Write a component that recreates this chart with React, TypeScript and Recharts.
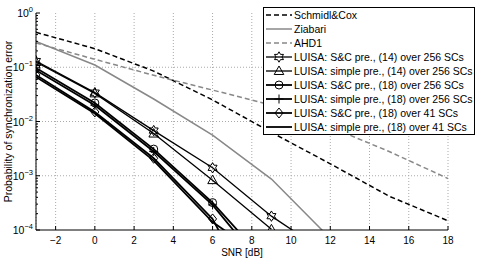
import React from 'react'
import { CartesianGrid, Legend, Line, LineChart, ReferenceLine, XAxis, YAxis } from 'recharts'

// SNR in dB
const snr = [-3, 0, 3, 6, 9, 12, 15, 18]

// probability of synchronization error per method
const schmidlCox = [0.44, 0.22, 0.085, 0.025, 0.0063, 0.00166, 0.00042, 0.000148]
const ziabari = [0.3, 0.11, 0.026, 0.0056, 0.00087, 0.00007, null, null]
const ahd1 = [0.28, 0.14, 0.071, 0.038, 0.02, 0.0079, 0.0028, 0.00089]
const luisaSC14 = [0.13, 0.034, 0.0068, 0.0014, 0.00018, 0.000034, null, null]
const luisaSimple14 = [0.125, 0.033, 0.006, 0.00083, 0.000103, null, null, null]
const luisaSC18 = [0.097, 0.022, 0.0031, 0.00032, 0.00002, null, null, null]
const luisaSimple18 = [0.088, 0.02, 0.0028, 0.00029, 0.000014, null, null, null]
const luisaSC18x41 = [0.072, 0.015, 0.0021, 0.00016, 0.0000015, null, null, null]
const luisaSimple18x41 = [0.066, 0.014, 0.0019, 0.00014, 0.000025, null, null, null]

const xTicks = [-2, 0, 2, 4, 6, 8, 10, 12, 14, 16, 18]
const yMajor = [1e-4, 1e-3, 1e-2, 1e-1, 1]
const yMinorMult = [2, 3, 4, 5, 6, 7, 8, 9]
const yTicks = [...yMajor, ...yMajor.slice(0, -1).flatMap((d) => yMinorMult.map((m) => m * d))]

const series = [
  { key: 'schmidlCox', name: 'Schmidl&Cox', values: schmidlCox, color: '#000', dash: '5 3', width: 1.5, marker: null },
  { key: 'ziabari', name: 'Ziabari', values: ziabari, color: '#888', dash: undefined, width: 1.5, marker: null },
  { key: 'ahd1', name: 'AHD1', values: ahd1, color: '#888', dash: '5 3', width: 1.5, marker: null },
  { key: 'luisaSC14', name: 'LUISA: S&C pre., (14) over 256 SCs', values: luisaSC14, color: '#000', dash: undefined, width: 1.3, marker: 'hexagram' },
  { key: 'luisaSimple14', name: 'LUISA: simple pre., (14) over 256 SCs', values: luisaSimple14, color: '#000', dash: undefined, width: 1.3, marker: 'triangle' },
  { key: 'luisaSC18', name: 'LUISA: S&C pre., (18) over 256 SCs', values: luisaSC18, color: '#000', dash: undefined, width: 1.8, marker: 'circle' },
  { key: 'luisaSimple18', name: 'LUISA: simple pre., (18) over 256 SCs', values: luisaSimple18, color: '#000', dash: undefined, width: 1.8, marker: 'plus' },
  { key: 'luisaSC18x41', name: 'LUISA: S&C pre., (18) over 41 SCs', values: luisaSC18x41, color: '#000', dash: undefined, width: 1.8, marker: 'diamond' },
  { key: 'luisaSimple18x41', name: 'LUISA: simple pre., (18) over 41 SCs', values: luisaSimple18x41, color: '#000', dash: undefined, width: 1.8, marker: null },
]

const data = snr.map((s, i) => {
  const row: any = { snr: s }
  series.forEach((sr) => { row[sr.key] = sr.values[i] })
  return row
})

const FONT = '"Liberation Sans", Arial, Helvetica, sans-serif'

const markerShape = (shape, cx, cy) => {
  const st = { fill: 'none', stroke: '#000', strokeWidth: 1 }
  if (shape === 'circle') return <circle cx={cx} cy={cy} r={4} {...st} />
  if (shape === 'plus') return <path d={`M${cx - 4.5},${cy}H${cx + 4.5}M${cx},${cy - 4.5}V${cy + 4.5}`} {...st} />
  if (shape === 'diamond') return <path d={`M${cx},${cy - 5}L${cx + 4},${cy}L${cx},${cy + 5}L${cx - 4},${cy}Z`} {...st} />
  if (shape === 'triangle') return <path d={`M${cx},${cy - 5}L${cx + 4.8},${cy + 3.5}L${cx - 4.8},${cy + 3.5}Z`} {...st} />
  if (shape === 'hexagram') {
    const pts = []
    for (let k = 0; k < 12; k++) {
      const a = (-90 + k * 30) * Math.PI / 180
      const r = k % 2 === 0 ? 5.2 : 3
      pts.push(`${cx + r * Math.cos(a)},${cy + r * Math.sin(a)}`)
    }
    return <polygon points={pts.join(' ')} {...st} />
  }
  return null
}

const makeDot = (shape) => (p) => {
  if (p.value == null || p.cy == null || isNaN(p.cy)) return <g key={`${shape}-${p.index}`} />
  return <g key={`${shape}-${p.index}`}>{markerShape(shape, p.cx, p.cy)}</g>
}

const LeftTick = ({ x, y, payload }) => {
  const lg = Math.log10(payload.value)
  const exp = Math.round(lg)
  const major = Math.abs(lg - exp) < 1e-6
  return (
    <g>
      <line x1={x} x2={x + (major ? 4 : 2)} y1={y} y2={y} stroke="#000" />
      {major && (
        <text x={x - 3} y={y + 4} textAnchor="end" fontFamily={FONT} fontSize={10.5} fill="#000">
          10<tspan dy={-5} fontSize={7.5}>{exp === 0 ? '0' : `\u2212${Math.abs(exp)}`}</tspan>
        </text>
      )}
    </g>
  )
}

const RightTick = ({ x, y, payload }) => {
  const lg = Math.log10(payload.value)
  const major = Math.abs(lg - Math.round(lg)) < 1e-6
  return <line x1={x} x2={x - (major ? 4 : 2)} y1={y} y2={y} stroke="#000" />
}

const BottomTick = ({ x, y, payload }) => (
  <g>
    <line x1={x} x2={x} y1={y} y2={y - 4} stroke="#000" />
    <text x={x} y={y + 13.5} textAnchor="middle" fontFamily={FONT} fontSize={10} fill="#000">
      {payload.value < 0 ? `\u2212${Math.abs(payload.value)}` : payload.value}
    </text>
  </g>
)

const TopTick = ({ x, y }) => <line x1={x} x2={x} y1={y} y2={y + 4} stroke="#000" />

const YLabel = ({ viewBox }) => {
  const cx = 8
  const cy = viewBox.y + viewBox.height / 2
  return (
    <text x={cx} y={cy} transform={`rotate(-90 ${cx} ${cy})`} textAnchor="middle" dominantBaseline="central"
      fontFamily={FONT} fontSize={10.5} fill="#000">
      Probability of synchronization error
    </text>
  )
}

const XLabel = ({ viewBox }) => (
  <text x={viewBox.x + viewBox.width / 2} y={256} textAnchor="middle" fontFamily={FONT} fontSize={10} fill="#000">
    SNR [dB]
  </text>
)

const LegendBox = () => (
  <div style={{ border: '1px solid #000', background: '#fff', width: 210, fontFamily: FONT, fontSize: 10.5, color: '#000' }}>
    {series.map((s) => (
      <div key={s.key} style={{ display: 'flex', alignItems: 'center', height: 14 }}>
        <svg width={30} height={14} style={{ flex: 'none' }}>
          <line x1={2} x2={28} y1={7} y2={7} stroke={s.color} strokeWidth={s.width} strokeDasharray={s.dash} />
          {s.marker && markerShape(s.marker, 15, 7)}
        </svg>
        <span style={{ whiteSpace: 'nowrap' }}>{s.name}</span>
      </div>
    ))}
  </div>
)

export default function App() {
  return (
    <div style={{ position: 'absolute', left: 0, top: 0 }}>
      <LineChart width={485} height={259} data={data} margin={{ top: 13, right: 37, bottom: 0, left: 0 }}>
        <CartesianGrid horizontal={false} stroke="#aaa" strokeDasharray="1 2" />
        {yMajor.slice(1, -1).map((v) => (
          <ReferenceLine key={v} y={v} stroke="#aaa" strokeDasharray="1 2" />
        ))}
        <XAxis dataKey="snr" type="number" domain={[-3, 18]} allowDataOverflow ticks={xTicks} interval={0}
          height={29} tickSize={0} tickMargin={0} tick={BottomTick} axisLine={{ stroke: '#000' }} label={<XLabel />} />
        <XAxis xAxisId="top" dataKey="snr" type="number" orientation="top" domain={[-3, 18]} allowDataOverflow
          ticks={xTicks} interval={0} height={0} tickSize={0} tickMargin={0} tick={TopTick} axisLine={{ stroke: '#000' }} />
        <YAxis scale="log" type="number" domain={[1e-4, 1]} allowDataOverflow ticks={yTicks} interval={0}
          width={36} tickSize={0} tickMargin={0} tick={LeftTick} axisLine={{ stroke: '#000' }} label={<YLabel />} />
        <YAxis yAxisId="right" orientation="right" scale="log" type="number" domain={[1e-4, 1]} allowDataOverflow
          ticks={yTicks} interval={0} width={0} tickSize={0} tickMargin={0} tick={RightTick} axisLine={{ stroke: '#000' }} />
        {series.map((s) => (
          <Line key={s.key} dataKey={s.key} name={s.name} type="linear" stroke={s.color} strokeWidth={s.width}
            strokeDasharray={s.dash} dot={s.marker ? makeDot(s.marker) : false} activeDot={false}
            isAnimationActive={false} connectNulls={false} />
        ))}
        <Legend layout="vertical" align="center" verticalAlign="middle" content={<LegendBox />}
          wrapperStyle={{ position: 'absolute', left: 263, top: 7, width: 212 }} />
      </LineChart>
    </div>
  )
}
